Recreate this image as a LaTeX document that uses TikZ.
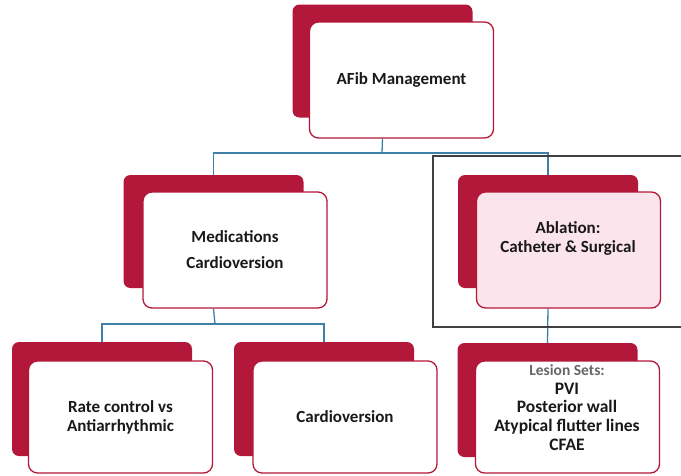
\documentclass[tikz,border=0pt]{standalone}
\usepackage{fontspec}
\setmainfont{Carlito}
\usepackage{tikz}
\usetikzlibrary{calc,positioning}
\definecolor{afred}{HTML}{B3173A}
\definecolor{afblue}{HTML}{3E7FA6}
\definecolor{afpink}{HTML}{FBE4EB}
\tikzset{
boxfont/.style={
  font=\fontsize{17}{19}\selectfont\bfseries,
  align=center,
  text=black!90
  },
backbox/.style={
  fill=afred,
  rounded corners=7pt,
  minimum width=180pt,
  minimum height=113pt,
  inner sep=0pt
  },
frontbox/.style={
  boxfont,
  draw=afred,
  line width=1.3pt,
  fill=#1,
  rounded corners=9pt,
  minimum width=184pt,
  minimum height=116pt,
  inner sep=0pt
  },
frontbox/.default=white,
conn/.style={
  draw=afblue,
  line width=1.3pt
  }
}

\begin{document}
\begin{tikzpicture}[x=1pt,y=-1pt]
            \useasboundingbox (0,0) rectangle (681,475);
            % top level
            \node[backbox] (afibback) at (382.5,61) {};
            \node[frontbox] (afib) at (401.5,80) {AFib Management};
            % second level
            \node[backbox] (medback) at (213.5,231.5) {};
            \node[frontbox] (med) at (235,250) {Medica\kern0pt tions\\[7pt]Cardioversion};
            \node[backbox] (ablback) at (548,231.5) {};
            \node[frontbox=afpink] (abl) at (568.5,250) {};
            \node[boxfont] (abltext) at (568,238) {Abla\kern0pt tion:\\Catheter \& Surgical};
            % third level
            \node[backbox,minimum height=114pt] (rateback) at (102,399) {};
            \node[frontbox,minimum height=112pt] (rate) at (120.5,417) {Rate control vs\\Antiarrhythmic};
            \node[backbox,minimum height=114pt] (cardback) at (324,399) {};
            \node[frontbox,minimum height=112pt] (card) at (345,417) {Cardioversion};
            \node[backbox,minimum height=114pt] (lesback) at (547.5,400) {};
            \node[frontbox,minimum height=112pt] (les) at (567.5,417) {};
            \node[boxfont,font=\fontsize{17.5}{18.75}\selectfont\bfseries]
            (lestext) at (567,407.5)
            {{\fontsize{15.5}{18.75}\selectfont\color{black!60}Lesion Sets:}\\PVI\\Posterior wall\\Atypical flutter lines\\CFAE};
            % connectors
            \coordinate (j1) at (382,153);
            \coordinate (j2) at (215,324);
            \draw[conn] (afibback.south |- afib.south) -- (j1);
            \draw[conn] (j1) -| (medback.north);
            \draw[conn] (j1) -| (ablback.north);
            \draw[conn] (medback.south |- med.south) -- (j2);
            \draw[conn] (j2) -| (rateback.north);
            \draw[conn] (j2) -| (cardback.north);
            \draw[conn] (ablback.south |- abl.south) -- (lesback.north);
            % highlight frame
            \draw[black!75,line width=1.2pt] (433,156) rectangle (684,327);
        \end{tikzpicture}
\end{document}
